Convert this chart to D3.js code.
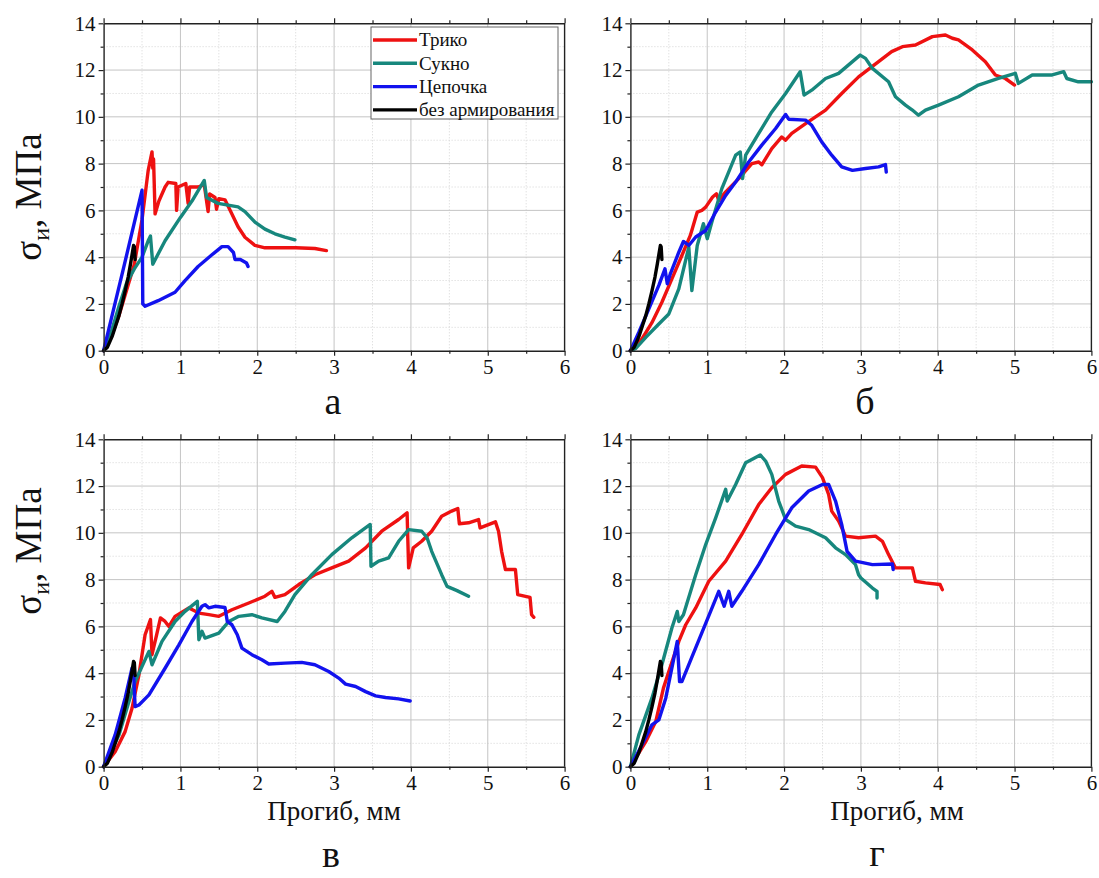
<!DOCTYPE html>
<html>
<head>
<meta charset="utf-8">
<script src="https://cdn.jsdelivr.net/npm/d3@7"></script>
<style>
  body { margin: 0; background: #fff; }
  svg text { font-family: "Liberation Serif", "Times New Roman", Times, "DejaVu Serif", serif; }
</style>
</head>
<body>
<svg id="chart" width="1099" height="878"></svg>
<script>
// ─── DATA (прогиб, мм → σи, МПа) ───

const SERIES = ['Трико', 'Сукно', 'Цепочка', 'без армирования'];
const X_TICKS = [0, 1, 2, 3, 4, 5, 6];
const Y_TICKS = [0, 2, 4, 6, 8, 10, 12, 14];
const PANEL_LETTERS = ['а', 'б', 'в', 'г'];

// unreinforced sample, same curve in every panel
const bez = [[0,0],[0.05,0.15],[0.11,0.6],[0.16,1.1],[0.2,1.5],[0.24,2.0],[0.28,2.55],[0.32,3.15],[0.35,3.7],[0.37,4.1],[0.39,4.5],[0.4,4.45],[0.41,3.9]];

// panel а
const a_triko = [[0,0],[0.1,0.6],[0.2,1.5],[0.3,2.6],[0.4,3.7],[0.5,5.6],[0.58,7.7],[0.63,8.5],[0.64,7.8],[0.65,8.2],[0.67,5.85],[0.72,6.4],[0.8,7.0],[0.84,7.2],[0.94,7.15],[0.95,6.0],[0.97,7.0],[1.07,7.15],[1.1,6.3],[1.12,7.0],[1.23,7.0],[1.31,7.1],[1.36,5.95],[1.38,6.7],[1.45,6.55],[1.47,6.05],[1.5,6.5],[1.58,6.45],[1.67,5.85],[1.75,5.3],[1.84,4.85],[1.97,4.5],[2.1,4.4],[2.5,4.4],[2.75,4.37],[2.9,4.28]];
const a_sukno = [[0,0],[0.1,0.8],[0.2,1.9],[0.3,2.9],[0.4,3.5],[0.5,4.0],[0.58,4.7],[0.61,4.9],[0.64,3.7],[0.8,4.7],[1.0,5.7],[1.15,6.4],[1.31,7.28],[1.34,6.55],[1.49,6.3],[1.75,6.15],[1.84,5.95],[1.97,5.5],[2.1,5.2],[2.23,5.0],[2.36,4.86],[2.49,4.74]];
const a_cep = [[0,0],[0.25,3.4],[0.5,6.86],[0.51,2.0],[0.54,1.9],[0.71,2.14],[0.93,2.5],[1.06,3.0],[1.23,3.6],[1.41,4.1],[1.54,4.45],[1.62,4.45],[1.69,4.2],[1.71,3.9],[1.78,3.9],[1.86,3.75],[1.88,3.6]];

// panel б
const b_triko = [[0,0],[0.15,0.5],[0.28,1.2],[0.41,2.07],[0.54,3.07],[0.67,4.07],[0.78,4.93],[0.87,5.93],[0.93,6.0],[0.98,6.14],[1.07,6.57],[1.12,6.71],[1.15,6.43],[1.24,6.79],[1.41,7.36],[1.58,8.0],[1.67,8.07],[1.71,7.95],[1.84,8.64],[1.97,9.14],[2.02,9.0],[2.1,9.29],[2.28,9.71],[2.54,10.29],[2.75,11.0],[2.97,11.71],[3.23,12.36],[3.4,12.79],[3.54,13.0],[3.71,13.07],[3.93,13.43],[4.1,13.5],[4.19,13.36],[4.27,13.29],[4.45,12.86],[4.62,12.36],[4.75,11.79],[4.88,11.64],[5.0,11.36]];
const b_sukno = [[0,0],[0.07,0.1],[0.2,0.57],[0.37,1.14],[0.5,1.57],[0.63,2.64],[0.76,4.43],[0.8,2.57],[0.87,4.5],[0.95,5.43],[1.0,4.79],[1.06,5.5],[1.19,6.93],[1.37,8.36],[1.43,8.5],[1.46,7.36],[1.5,8.36],[1.67,9.29],[1.84,10.21],[2.02,11.0],[2.21,11.93],[2.26,10.93],[2.36,11.14],[2.54,11.64],[2.71,11.86],[2.89,12.36],[2.99,12.64],[3.06,12.5],[3.15,12.07],[3.36,11.5],[3.45,10.86],[3.58,10.5],[3.67,10.29],[3.75,10.07],[3.84,10.29],[4.01,10.5],[4.27,10.86],[4.53,11.36],[4.79,11.64],[5.01,11.86],[5.05,11.43],[5.23,11.79],[5.49,11.79],[5.64,11.93],[5.68,11.64],[5.83,11.5],[6.0,11.5]];
const b_cep = [[0,0],[0.11,0.79],[0.24,1.79],[0.37,2.79],[0.45,3.5],[0.48,2.86],[0.52,3.29],[0.63,4.21],[0.69,4.67],[0.76,4.5],[0.85,4.86],[0.98,5.14],[1.11,5.93],[1.24,6.64],[1.37,7.21],[1.54,8.07],[1.71,8.79],[1.89,9.5],[2.02,10.1],[2.06,9.9],[2.28,9.86],[2.36,9.64],[2.49,8.93],[2.62,8.36],[2.75,7.86],[2.89,7.71],[3.06,7.79],[3.23,7.86],[3.32,7.96],[3.33,7.64]];

// panel в
const c_triko = [[0,0],[0.15,0.64],[0.28,1.5],[0.37,2.5],[0.46,3.93],[0.54,5.64],[0.61,6.29],[0.63,4.79],[0.69,5.64],[0.74,6.36],[0.8,6.21],[0.85,6.0],[0.93,6.43],[1.11,6.79],[1.24,6.57],[1.37,6.5],[1.5,6.43],[1.67,6.71],[1.89,7.0],[2.1,7.29],[2.19,7.5],[2.23,7.24],[2.36,7.36],[2.54,7.79],[2.75,8.21],[2.97,8.5],[3.19,8.79],[3.41,9.36],[3.62,10.07],[3.84,10.57],[3.95,10.86],[3.97,8.5],[4.03,9.36],[4.14,9.64],[4.27,10.07],[4.4,10.71],[4.53,10.93],[4.61,11.04],[4.63,10.39],[4.75,10.43],[4.88,10.57],[4.9,10.21],[5.1,10.47],[5.14,10.07],[5.18,9.21],[5.23,8.43],[5.36,8.43],[5.39,7.36],[5.55,7.24],[5.57,6.5],[5.6,6.39]];
const c_sukno = [[0,0],[0.2,1.36],[0.33,2.79],[0.41,3.64],[0.59,4.93],[0.63,4.36],[0.76,5.36],[0.93,6.21],[1.06,6.64],[1.22,7.07],[1.24,5.43],[1.28,5.79],[1.32,5.5],[1.5,5.71],[1.63,6.21],[1.76,6.43],[1.93,6.5],[2.06,6.36],[2.26,6.21],[2.36,6.64],[2.49,7.36],[2.71,8.21],[2.97,9.07],[3.23,9.79],[3.47,10.36],[3.48,8.57],[3.58,8.79],[3.71,8.93],[3.84,9.64],[3.97,10.14],[4.14,10.07],[4.21,9.79],[4.27,9.21],[4.4,8.21],[4.47,7.71],[4.6,7.53],[4.75,7.29]];
const c_cep = [[0,0],[0.15,1.36],[0.28,2.93],[0.37,4.21],[0.39,4.0],[0.41,2.57],[0.46,2.64],[0.59,3.07],[0.8,4.21],[0.98,5.21],[1.15,6.21],[1.28,6.86],[1.32,6.93],[1.37,6.79],[1.45,6.86],[1.58,6.81],[1.61,6.21],[1.67,6.07],[1.74,5.64],[1.8,5.07],[1.93,4.79],[2.06,4.57],[2.15,4.39],[2.36,4.43],[2.58,4.46],[2.75,4.36],[2.93,4.07],[3.06,3.79],[3.15,3.53],[3.28,3.43],[3.41,3.21],[3.54,3.03],[3.67,2.96],[3.84,2.9],[3.99,2.81]];

// panel г
const d_triko = [[0,0],[0.2,1.07],[0.33,1.93],[0.43,3.36],[0.5,4.07],[0.63,5.36],[0.72,6.07],[0.85,6.79],[1.02,7.93],[1.24,8.79],[1.45,9.93],[1.67,11.21],[1.84,11.93],[2.02,12.5],[2.23,12.86],[2.41,12.81],[2.5,12.36],[2.58,11.64],[2.62,10.93],[2.71,10.5],[2.8,9.86],[2.97,9.79],[3.19,9.86],[3.28,9.64],[3.36,9.07],[3.45,8.5],[3.67,8.5],[3.71,7.93],[3.84,7.86],[4.03,7.79],[4.06,7.57]];
const d_sukno = [[0,0],[0.11,1.36],[0.28,2.93],[0.41,4.36],[0.54,5.93],[0.61,6.64],[0.63,6.21],[0.69,6.5],[0.85,8.21],[0.98,9.5],[1.11,10.64],[1.24,11.86],[1.26,11.36],[1.37,12.07],[1.5,13.0],[1.58,13.14],[1.69,13.33],[1.76,13.07],[1.84,12.5],[1.93,11.36],[2.02,10.57],[2.15,10.29],[2.32,10.14],[2.54,9.79],[2.67,9.36],[2.8,9.07],[2.93,8.64],[2.97,8.21],[3.0,8.07],[3.15,7.64],[3.21,7.5],[3.21,7.21]];
const d_cep = [[0,0],[0.15,0.93],[0.28,1.79],[0.37,2.0],[0.46,2.93],[0.61,5.36],[0.64,3.64],[0.67,3.64],[0.8,4.69],[0.98,6.13],[1.15,7.5],[1.22,6.86],[1.28,7.5],[1.32,6.86],[1.45,7.5],[1.67,8.64],[1.89,9.93],[2.1,11.07],[2.32,11.79],[2.5,12.07],[2.58,12.07],[2.67,11.36],[2.75,10.36],[2.82,9.21],[2.93,8.79],[3.15,8.64],[3.41,8.67],[3.42,8.43]];

// ─── STYLE / LAYOUT ───

const FONT = '"Liberation Serif", "Times New Roman", Times, "DejaVu Serif", serif';
const COLORS = { 'Трико': '#ee1111', 'Сукно': '#17877d', 'Цепочка': '#1212ee', 'без армирования': '#000000' };
const PW = 461, PH = 327.4;

const panels = [
  { letter: PANEL_LETTERS[0], left: 103.6, top: 23.3, lines: [a_triko, a_sukno, a_cep, bez],
    letterPos: [333, 414], ylabelY: 197, xlabel: null, legend: true },
  { letter: PANEL_LETTERS[1], left: 630.4, top: 23.3, lines: [b_triko, b_sukno, b_cep, bez],
    letterPos: [865, 414], ylabelY: null, xlabel: null, legend: false },
  { letter: PANEL_LETTERS[2], left: 103.6, top: 439.3, lines: [c_triko, c_sukno, c_cep, bez],
    letterPos: [331, 867], ylabelY: 551, xlabel: 334, legend: false },
  { letter: PANEL_LETTERS[3], left: 630.4, top: 439.3, lines: [d_triko, d_sukno, d_cep, bez],
    letterPos: [877, 866], ylabelY: null, xlabel: 897, legend: false }
];

const svg = d3.select('#chart');
svg.append('rect').attr('width', 1099).attr('height', 878).attr('fill', '#fff');

const drawPanel = (p) => {
  const g = svg.append('g').attr('transform', `translate(${p.left},${p.top})`);
  const x = d3.scaleLinear().domain([0, 6]).range([0, PW]);
  const y = d3.scaleLinear().domain([0, 14]).range([PH, 0]);

  const xMinor = d3.range(0.5, 6, 1);
  const yMinor = d3.range(1, 14, 2);

  // grid: minor dotted, major solid
  g.append('g').selectAll('line').data(xMinor).join('line')
    .attr('x1', d => x(d)).attr('x2', d => x(d)).attr('y1', 0).attr('y2', PH)
    .attr('stroke', '#d4d4d4').attr('stroke-dasharray', '1,2');
  g.append('g').selectAll('line').data(yMinor).join('line')
    .attr('y1', d => y(d)).attr('y2', d => y(d)).attr('x1', 0).attr('x2', PW)
    .attr('stroke', '#d4d4d4').attr('stroke-dasharray', '1,2');
  g.append('g').selectAll('line').data(X_TICKS.slice(1, -1)).join('line')
    .attr('x1', d => x(d)).attr('x2', d => x(d)).attr('y1', 0).attr('y2', PH)
    .attr('stroke', '#c4c4c4');
  g.append('g').selectAll('line').data(Y_TICKS.slice(1, -1)).join('line')
    .attr('y1', d => y(d)).attr('y2', d => y(d)).attr('x1', 0).attr('x2', PW)
    .attr('stroke', '#c4c4c4');

  // curves
  const line = d3.line().x(d => x(d[0])).y(d => y(d[1]));
  p.lines.forEach((pts, i) => {
    g.append('path').datum(pts)
      .attr('d', line)
      .attr('fill', 'none')
      .attr('stroke', COLORS[SERIES[i]])
      .attr('stroke-width', 3.4)
      .attr('stroke-linejoin', 'round')
      .attr('stroke-linecap', 'round');
  });

  // axes
  const styleAxis = (sel) => {
    sel.attr('font-family', FONT);
    sel.selectAll('path').attr('stroke', '#222').attr('stroke-width', 1.4);
    sel.selectAll('line').attr('stroke', '#222').attr('stroke-width', 1.2);
    sel.selectAll('text').attr('fill', '#111').attr('font-family', FONT).attr('font-size', 21);
  };

  const bottom = g.append('g').attr('transform', `translate(0,${PH})`)
    .call(d3.axisBottom(x).tickValues(X_TICKS).tickFormat(d3.format('d'))
      .tickSize(5).tickSizeOuter(0).tickPadding(3));
  styleAxis(bottom);
  g.append('g').attr('transform', `translate(0,${PH})`)
    .call(d3.axisBottom(x).tickValues(xMinor).tickSize(3).tickFormat(''))
    .call(s => s.select('.domain').remove()).call(styleAxis);

  const left = g.append('g')
    .call(d3.axisLeft(y).tickValues(Y_TICKS).tickFormat(d3.format('d'))
      .tickSize(5).tickSizeOuter(0).tickPadding(3));
  styleAxis(left);
  g.append('g')
    .call(d3.axisLeft(y).tickValues(yMinor).tickSize(3).tickFormat(''))
    .call(s => s.select('.domain').remove()).call(styleAxis);

  g.append('g')
    .call(d3.axisTop(x).tickValues(X_TICKS).tickSize(5).tickSizeOuter(0).tickFormat(''))
    .call(styleAxis);
  g.append('g')
    .call(d3.axisTop(x).tickValues(xMinor).tickSize(3).tickFormat(''))
    .call(s => s.select('.domain').remove()).call(styleAxis);

  g.append('line').attr('x1', PW).attr('x2', PW).attr('y1', 0).attr('y2', PH)
    .attr('stroke', '#222').attr('stroke-width', 1.4);

  // y label
  if (p.ylabelY !== null) {
    const t = svg.append('text')
      .attr('transform', `translate(41,${p.ylabelY}) rotate(-90)`)
      .attr('text-anchor', 'middle').attr('font-family', FONT)
      .attr('font-size', 37).attr('fill', '#111');
    t.append('tspan').text('σ');
    t.append('tspan').text('и').attr('font-size', 24).attr('dy', 8);
    t.append('tspan').text(', МПа').attr('dy', -8);
  }

  // x label
  if (p.xlabel !== null) {
    svg.append('text').attr('x', p.xlabel).attr('y', 820)
      .attr('text-anchor', 'middle').attr('font-family', FONT)
      .attr('font-size', 27).attr('fill', '#111')
      .text('Прогиб, мм');
  }

  // panel letter
  svg.append('text').attr('x', p.letterPos[0]).attr('y', p.letterPos[1])
    .attr('text-anchor', 'middle').attr('font-family', FONT)
    .attr('font-size', 38).attr('fill', '#111')
    .text(p.letter);

  // legend
  if (p.legend) {
    const lg = svg.append('g').attr('transform', 'translate(371,27)');
    lg.append('rect').attr('width', 187).attr('height', 92)
      .attr('fill', '#fff').attr('stroke', '#666').attr('stroke-width', 1);
    SERIES.forEach((s, i) => {
      const yy = 13 + i * 23.3;
      lg.append('line').attr('x1', 2).attr('x2', 46).attr('y1', yy).attr('y2', yy)
        .attr('stroke', COLORS[s]).attr('stroke-width', 3.4);
      lg.append('text').attr('x', 48).attr('y', yy).attr('dy', '0.34em')
        .attr('font-family', FONT).attr('font-size', 19).attr('fill', '#111').text(s);
    });
  }
};

panels.forEach(drawPanel);
</script>
</body>
</html>
